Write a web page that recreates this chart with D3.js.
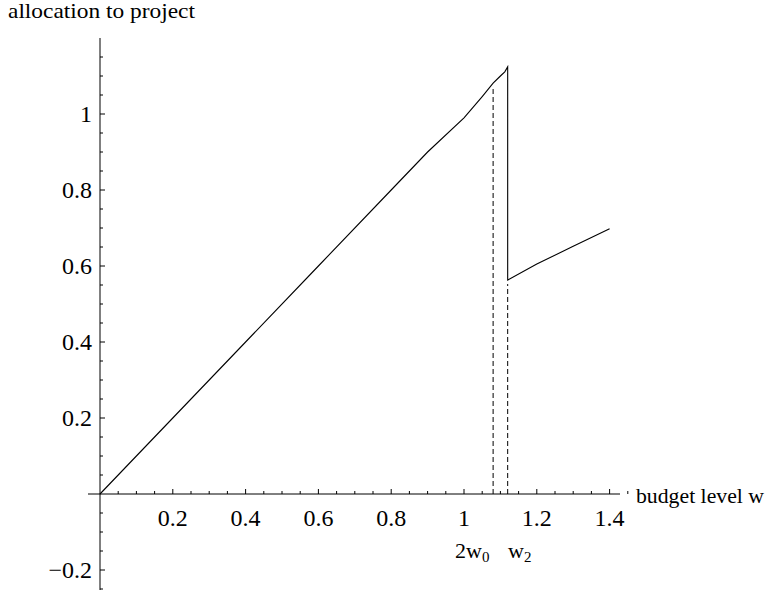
<!DOCTYPE html>
<html>
<head>
<meta charset="utf-8">
<script src="https://cdn.jsdelivr.net/npm/d3@7"></script>
<style>
  body { margin: 0; background: #fff; }
  svg { display: block; }
  text { font-family: "Liberation Serif", "Times New Roman", serif; fill: #000; }
</style>
</head>
<body>
<svg id="chart" width="772" height="594"></svg>
<script>
// allocation to the project as a function of budget level w
const budget     = [0, 0.2, 0.4, 0.6, 0.8, 0.9, 1.0, 1.05, 1.08, 1.1, 1.112, 1.12, 1.12, 1.2, 1.3, 1.4];
const allocation = [0, 0.2, 0.4, 0.6, 0.8, 0.9, 0.99, 1.046, 1.081, 1.1, 1.111, 1.124, 0.563, 0.605, 0.652, 0.698];

// marked budget thresholds: position, curve height there, label
const marks = [
  { w: 1.08, top: 1.081, base: "2w", sub: "0", lx: 455 },
  { w: 1.12, top: 0.563, base: "w",  sub: "2", lx: 508 }
];

const xTicks = [0.2, 0.4, 0.6, 0.8, 1, 1.2, 1.4];
const yTicks = [-0.2, 0.2, 0.4, 0.6, 0.8, 1];

const svg = d3.select("#chart");
const x = d3.scaleLinear().domain([0, 1.4]).range([100, 609.6]);
const y = d3.scaleLinear().domain([0, 1]).range([494, 114]);

const fmt = v => (v < 0 ? "\u2212" : "") + d3.format("")(Math.abs(v));

// minor + major ticks, pointing into the plot
const xMinor = d3.range(0.05, 1.451, 0.05).map(v => +v.toFixed(2));
const yMinor = d3.range(-0.25, 1.151, 0.05).map(v => +v.toFixed(2)).filter(v => v !== 0);
const isMajor = v => Math.abs(Math.round(v * 5) - v * 5) < 1e-6;

const ax = svg.append("g").attr("stroke", "#000").attr("stroke-width", 1);
ax.append("line").attr("x1", 88).attr("x2", 620).attr("y1", y(0)).attr("y2", y(0));
ax.append("line").attr("x1", x(0)).attr("x2", x(0)).attr("y1", 38).attr("y2", 590);

ax.selectAll(".xt").data(xMinor).join("line")
  .attr("x1", d => x(d)).attr("x2", d => x(d))
  .attr("y1", y(0)).attr("y2", d => y(0) - (isMajor(d) ? 5 : 3));
ax.selectAll(".yt").data(yMinor).join("line")
  .attr("y1", d => y(d)).attr("y2", d => y(d))
  .attr("x1", x(0)).attr("x2", d => x(0) + (isMajor(d) ? 5 : 3));

svg.selectAll(".xl").data(xTicks).join("text")
  .attr("x", d => x(d)).attr("y", 526)
  .attr("text-anchor", "middle").attr("font-size", 24)
  .text(fmt);
svg.selectAll(".yl").data(yTicks).join("text")
  .attr("x", 92).attr("y", d => y(d) + 8)
  .attr("text-anchor", "end").attr("font-size", 24)
  .text(fmt);

// axis titles
svg.append("text").attr("x", 8).attr("y", 18).attr("font-size", 21)
  .attr("textLength", 187).attr("lengthAdjust", "spacingAndGlyphs")
  .text("allocation to project");
svg.append("text").attr("x", 636).attr("y", 503).attr("font-size", 21)
  .attr("textLength", 128).attr("lengthAdjust", "spacingAndGlyphs")
  .text("budget level w");

// dashed threshold lines
svg.selectAll(".mk").data(marks).join("line")
  .attr("x1", d => x(d.w)).attr("x2", d => x(d.w))
  .attr("y1", y(0)).attr("y2", d => y(d.top) + 4)
  .attr("stroke", "#000").attr("stroke-width", 1)
  .attr("stroke-dasharray", "5,3");

const lab = svg.selectAll(".ml").data(marks).join("text")
  .attr("x", d => d.lx).attr("y", 558)
  .attr("font-size", 22);
lab.append("tspan").text(d => d.base);
lab.append("tspan").attr("font-size", 15).attr("dy", 4).text(d => d.sub);

// allocation curve
const pts = budget.map((w, i) => [w, allocation[i]]);
svg.append("path")
  .datum(pts)
  .attr("fill", "none").attr("stroke", "#000").attr("stroke-width", 1.1)
  .attr("d", d3.line().x(d => x(d[0])).y(d => y(d[1])));
</script>
</body>
</html>
